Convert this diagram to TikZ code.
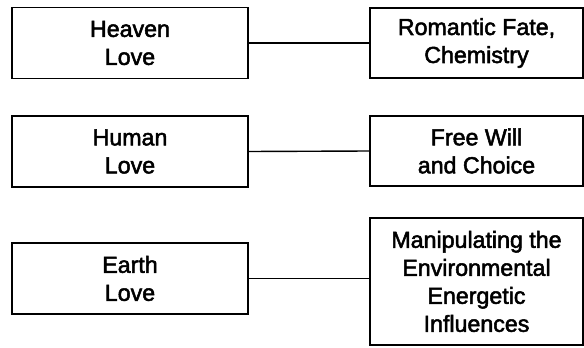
\documentclass[tikz,border=0pt]{standalone}
\usepackage{fontspec}
\setmainfont{Liberation Sans}
\newfontfamily\boxfont[RawFeature={embolden=2.2}]{Liberation Sans}
\begin{document}
\begin{tikzpicture}[x=1pt, y=-1pt, line cap=butt, line join=miter,
    box/.style={draw, line width=1.7pt, inner sep=2pt, align=center,
      font=\boxfont\fontsize{23.2}{28}\selectfont},
    leftbox/.style={box, minimum width=236pt, minimum height=71pt},
    rightbox/.style={box, minimum width=213pt, minimum height=70pt},
    link/.style={line width=1.4pt}]
  \useasboundingbox (0,0) rectangle (584,348);
  % left column
  \node[leftbox] (heaven) at (130,43) {Heaven\\Love};
  \node[leftbox] (human) at (130,151.5) {Human\\Love};
  \node[leftbox] (earth) at (130,278.5) {Earth\\Love};
  % right column
  \node[rightbox] (fate) at (476.5,43) {Romantic Fate,\\Chemistry};
  \node[rightbox] (will) at (476.5,151) {Free Will\\and Choice};
  \node[rightbox, minimum height=127pt] (manip) at (476.5,281.5)
    {Manipulating the\\Environmental\\Energetic\\Influences};
  % links
  \draw[link] (heaven.east) -- (fate.west);
  \draw[link] (human.east) -- (will.west);
  \draw[link] (earth.east) -- (earth.east -| manip.west);
\end{tikzpicture}
\end{document}
